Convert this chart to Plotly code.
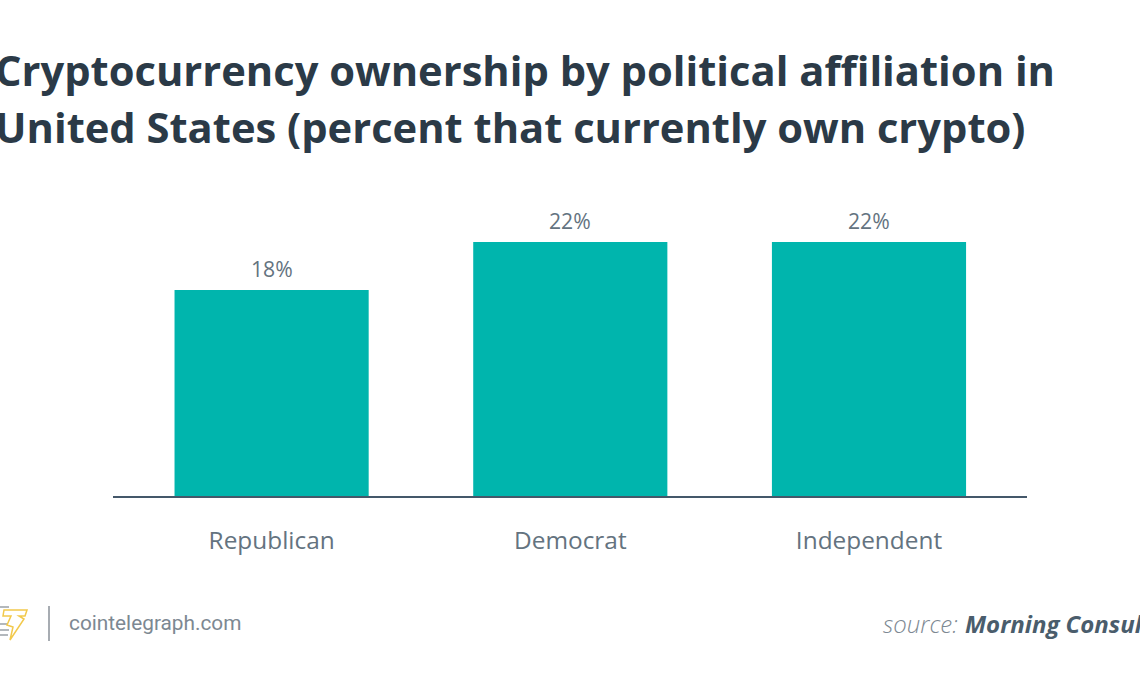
import plotly.graph_objects as go

categories = ["Republican", "Democrat", "Independent"]
values = [17.85, 22, 22]
labels = ["18%", "22%", "22%"]
title_lines = ["Cryptocurrency ownership by political affiliation in", "United States (percent that currently own crypto)"]

W, H = 1140, 694
L, R, T, B = 113, 1027, 210, 496
fx = lambda p: (p - L) / (R - L)
fy = lambda p: (B - p) / (B - T)

fig = go.Figure(go.Bar(
    x=categories, y=values, cliponaxis=False,
    marker=dict(color="#00b5ad", line=dict(width=0)),
    width=0.65,
))
fig.update_layout(
    width=W, height=H, autosize=False, paper_bgcolor="white", plot_bgcolor="white", showlegend=False,
    margin=dict(l=L, r=W-R, t=T, b=H-B, pad=0),
    xaxis=dict(showline=True, linecolor="#44586a", linewidth=1.5, ticks="", showgrid=False,
               range=[-0.531, 2.529],
               tickfont=dict(family="Open Sans", size=24.4, color="#64737f"), ticklabelstandoff=22),
    yaxis=dict(visible=False, range=[0, 22 * 286 / 254], showgrid=False),
)
for c, v, t in zip(categories, values, labels):
    fig.add_annotation(text=t, x=c, y=v, xref="x", yref="y", yanchor="bottom", yshift=5, showarrow=False,
                       font=dict(family="Open Sans", size=21.2, color="#64737f"))
for line, py in zip(title_lines, [69.5, 126.5]):
    fig.add_annotation(text=line, xref="paper", yref="paper", x=fx(-7), y=fy(py),
        xanchor="left", yanchor="middle", showarrow=False,
        font=dict(family="Open Sans", size=41.7, color="#2b3a47", weight=700))
fig.add_annotation(text="cointelegraph.com", xref="paper", yref="paper", x=fx(67), y=fy(623),
    xanchor="left", yanchor="middle", showarrow=False, font=dict(family="Roboto", size=20.8, color="#7d8892"))
fig.add_annotation(text="<i>source: </i>", xref="paper", yref="paper", x=fx(881), y=fy(623),
    xanchor="left", yanchor="middle", showarrow=False,
    font=dict(family="Open Sans", size=24, color="#7d8892", weight=300))
fig.add_annotation(text="<b><i>Morning Consult</i></b>", xref="paper", yref="paper", x=fx(963), y=fy(623),
    xanchor="left", yanchor="middle", showarrow=False,
    font=dict(family="Open Sans", size=24, color="#4a5d6c"))
fig.add_shape(type="line", xref="paper", yref="paper", x0=fx(49), x1=fx(49), y0=fy(606), y1=fy(641),
    line=dict(color="#8a9199", width=1.5))

# logo: coin stack and lightning T
for py, xr in [(607, 9), (624, 9), (630, 9), (635, 8)]:
    fig.add_shape(type="line", xref="paper", yref="paper", x0=fx(0), x1=fx(xr), y0=fy(py), y1=fy(py),
                  line=dict(color="#9aa0a6", width=1.5))
bolt = [(4, 610), (27, 610), (25, 616), (19, 616), (24, 619), (10, 640), (13, 627), (7, 625), (11, 616), (3, 616)]
path = "M " + " L ".join(f"{fx(x)} {fy(y)}" for x, y in bolt) + " Z"
fig.add_shape(type="path", xref="paper", yref="paper", path=path, fillcolor="white",
              line=dict(color="#f2c94c", width=1.5))

fig.write_html("out.html", config={"displayModeBar": False},
               post_script="document.body.style.margin='0';document.documentElement.style.overflow='hidden';")
